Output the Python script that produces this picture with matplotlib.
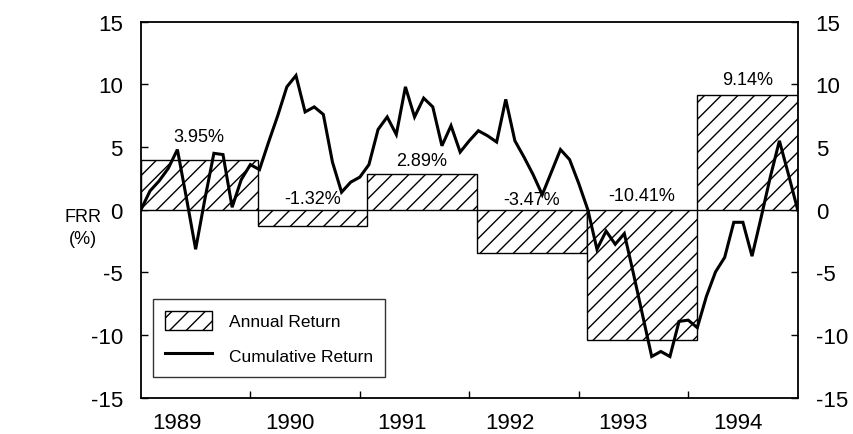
################################################################################
# FRR annual vs cumulative return, 1989-1994
################################################################################

import matplotlib
matplotlib.use('Agg')
import matplotlib.pyplot as plt
import numpy as np

################################################################################
# Data
################################################################################

# annual returns (%) and the month boundaries of each year's bar
annual_return = [3.95, -1.32, 2.89, -3.47, -10.41, 9.14]
year_edges = [0, 12.8, 24.8, 36.8, 48.9, 61, 72]

# cumulative return (%), monthly
cum_return = [0.0, 1.5, 2.3, 3.3, 4.8, 0.9, -3.15, 0.8, 4.5, 4.4,
              0.2, 2.4, 3.6, 3.2, 5.4, 7.5, 9.8, 10.7, 7.8, 8.2,
              7.6, 3.8, 1.4, 2.2, 2.6, 3.6, 6.4, 7.4, 6.0, 9.8,
              7.4, 8.9, 8.2, 5.1, 6.7, 4.6, 5.5, 6.3, 5.9, 5.4,
              8.8, 5.5, 4.2, 2.8, 1.2, 3.0, 4.8, 4.0, 2.1, 0.0,
              -3.15, -1.7, -2.75, -1.9, -5.1, -8.4, -11.7, -11.3, -11.7, -8.9,
              -8.8, -9.4, -6.9, -4.95, -3.8, -1.0, -1.0, -3.7, -0.6, 2.6,
              5.5, 2.8, 0.0]

years = ['1989', '1990', '1991', '1992', '1993', '1994']
year_ticks = [12, 24, 36, 48, 60]
year_label_pos = [3.9, 16.3, 28.6, 40.5, 52.9, 65.5]

################################################################################
# Style
################################################################################

plt.rcParams['font.family'] = ['Liberation Sans', 'DejaVu Sans']
plt.rcParams['axes.unicode_minus'] = False
plt.rcParams['hatch.linewidth'] = 1.0

# vertical nudge (points) of each bar label
label_dy = [11, 2, 3, 1, 4, 5]

fig = plt.figure(figsize=(8.54, 4.35), dpi=100)
ax = fig.add_axes([0.165, 0.083, 0.769, 0.865])

################################################################################
# Plot
################################################################################

edges = np.array(year_edges)
widths = np.diff(edges)
bars = ax.bar(edges[:-1], annual_return, width=widths, align='edge',
              facecolor='white', edgecolor='black', linewidth=1.0,
              hatch='//', label='Annual Return', zorder=2)

months = np.arange(len(cum_return))
line, = ax.plot(months, cum_return, color='black', linewidth=2.2,
                label='Cumulative Return', zorder=5, solid_joinstyle='miter')

for left, w, v, dy in zip(edges[:-1], widths, annual_return, label_dy):
    base = max(v, 0)
    ax.annotate('{:.2f}%'.format(v), (left + w / 2, base),
                xytext=(0, dy), textcoords='offset points',
                ha='center', va='bottom', fontsize=13, zorder=6)

ax.set_xlim(0, 72)
ax.set_ylim(-15, 15)
ax.set_yticks(np.arange(-15, 16, 5))
ax.set_xticks(year_ticks)
ax.set_xticklabels([])
ax.set_xticks(year_label_pos, minor=True)
ax.set_xticklabels(years, minor=True)

ax.tick_params(axis='y', which='both', direction='in', length=5, width=1,
               labelsize=16, right=True, labelright=True, pad=13)
ax.tick_params(axis='x', which='major', direction='in', length=5, width=1)
ax.tick_params(axis='x', which='minor', length=0, labelsize=16, pad=10)

for s in ax.spines.values():
    s.set_linewidth(1.3)

fig.text(0.097, 0.475, 'FRR\n(%)', ha='center', va='center',
         fontsize=13, linespacing=1.4)

leg = ax.legend(handles=[bars, line], loc='lower left',
                bbox_to_anchor=(0.018, 0.056), fontsize=12.5,
                frameon=True, fancybox=False, edgecolor='black',
                handlelength=2.7, handleheight=1.3, handletextpad=1.0,
                borderpad=0.7, labelspacing=0.9, borderaxespad=0)
leg.get_frame().set_linewidth(1.0)

plt.savefig('out.png', dpi=100)
